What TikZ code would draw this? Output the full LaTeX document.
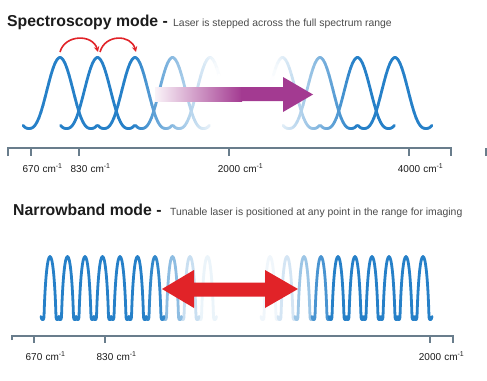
\documentclass[tikz,border=0pt]{standalone}
\usepackage{fontspec}
\setmainfont{Liberation Sans}
\usetikzlibrary{arrows.meta}
\definecolor{wave}{RGB}{38,128,200}
\definecolor{axisc}{RGB}{105,125,140}
\definecolor{purp}{RGB}{163,58,145}
\definecolor{redarr}{RGB}{225,35,40}
\definecolor{subt}{RGB}{75,75,75}
\definecolor{titlec}{RGB}{28,28,28}
\tikzset{
  wavestroke/.style={line width=2.8pt, line cap=round, line join=round},
  axisline/.style={draw=axisc, line width=1.4pt},
  ticklbl/.style={font=\fontsize{10}{12}\selectfont, text=titlec, inner sep=0pt},
  titletxt/.style={font=\fontsize{15.8}{19}\selectfont\bfseries, text=titlec, inner sep=0pt, anchor=base west},
  subtxt/.style={font=\fontsize{10.4}{12}\selectfont, text=subt, inner sep=0pt, anchor=base west},
  hoparrow/.style={draw=redarr, line width=1.6pt, -{Stealth[length=5.5pt,width=5.5pt]}}
}
\newcommand\drawWide[1]{%
 \foreach \i in {0,...,36}{%
   \pgfmathsetmacro\ta{-37+2*\i}%
   \pgfmathsetmacro\tb{\ta+2}%
   \pgfmathsetmacro\ya{128.5-71*pow((1+cos(180*\ta/31))/2+0.0001,1.3)}%
   \pgfmathsetmacro\yb{128.5-71*pow((1+cos(180*\tb/31))/2+0.0001,1.3)}%
   \pgfmathsetmacro\xa{#1+\ta}%
   \pgfmathsetmacro\xb{#1+\tb}%
   \pgfmathsetmacro\xm{(\xa+\xb)/2}%
   \pgfmathsetmacro\op{100*max(0,min(1,max((220-\xm)/88,(\xm-272)/83)))}%
   \draw[wavestroke,wave!\op!white] (\xa,\ya) -- (\xb,\yb);
 }}
% narrow arch with curled feet: #1 centre, #2 percentage of blue
\newcommand\drawNarrow[2]{%
  \draw[wavestroke, wave!#2!white]
    (#1-9,316.5) .. controls (#1-8.5,321) and (#1-6,320.5) .. (#1-6,317)
    .. controls (#1-3.6,236.3) and (#1+3.6,236.3) .. (#1+6,317)
    .. controls (#1+6,320.5) and (#1+8.5,321) .. (#1+9,316.5);
}
\begin{document}
\begin{tikzpicture}[x=1pt,y=-1pt]
\useasboundingbox (0,0) rectangle (487,380);
\fill[white] (0,0) rectangle (487,380);

% ---------- Spectroscopy mode ----------
\node[titletxt] (t1) at (7,27) {Spectroscopy mode -};
\node[subtxt] (s1) at (173,27) {Laser is stepped across the full spectrum range};

\foreach \c in {210,172.5,60,97.5,135,282.5,320,357.5,395} {\drawWide{\c}}

% hop arrows
\coordinate (h1) at (60,52);
\coordinate (h2) at (98,52);
\coordinate (h3) at (100,52);
\coordinate (h4) at (136,52);
\draw[hoparrow] (h1) .. controls +(5,-18) and +(-5,-18) .. (h2);
\draw[hoparrow] (h3) .. controls +(5,-18) and +(-5,-18) .. (h4);

% purple arrow
\shade[left color=purp!6, right color=purp] (155,87) rectangle (242,101);
\fill[purp] (241,87) -- (283,87) -- (283,77) -- (313,94.5) -- (283,112) -- (283,101) -- (241,101) -- cycle;

% top axis
\draw[axisline] (8,156) -- (8,148) -- (451,148) -- (451,156);
\foreach \x in {31,79,229,409} {\draw[axisline] (\x,148) -- (\x,156);}
\draw[axisline] (486,148) -- (486,156);

\node[ticklbl, anchor=base] (a670) at (31,172) {670};
\node[ticklbl, anchor=base west] (a670u) at (a670.base east) {\hspace{2.8pt}cm\textsuperscript{-1}};
\node[ticklbl, anchor=base] (a830) at (79,172) {830};
\node[ticklbl, anchor=base west] (a830u) at (a830.base east) {\hspace{2.8pt}cm\textsuperscript{-1}};
\node[ticklbl, anchor=base] (a2000) at (229,172) {2000};
\node[ticklbl, anchor=base west] (a2000u) at (a2000.base east) {\hspace{2.8pt}cm\textsuperscript{-1}};
\node[ticklbl, anchor=base] (a4000) at (409,172) {4000};
\node[ticklbl, anchor=base west] (a4000u) at (a4000.base east) {\hspace{2.8pt}cm\textsuperscript{-1}};

% ---------- Narrowband mode ----------
\node[titletxt] (t2) at (13,215) {Narrowband mode -};
\node[subtxt] (s2) at (170,215) {Tunable laser is positioned at any point in the range for imaging};

\foreach \c/\o in {207.5/9,190/25,172.5/52,155/94,137.5/100,120/100,102.5/100,85/100,67.5/100,50/100} {\drawNarrow{\c}{\o}}
\foreach \c/\o in {270/7,287/20,304/45,321/84,338/100,355/100,372/100,389/100,406/100,423/100} {\drawNarrow{\c}{\o}}

% red double arrow
\fill[redarr] (162,289) -- (194,270) -- (194,282.5) -- (265,282.5) -- (265,270) -- (298,289) -- (265,308) -- (265,296.5) -- (194,296.5) -- (194,308) -- cycle;

% bottom axis
\draw[axisline] (12,340) -- (12,336) -- (453,336) -- (453,343);
\foreach \x in {34,105,430} {\draw[axisline] (\x,336) -- (\x,343);}

\node[ticklbl, anchor=base] (b670) at (34,360) {670};
\node[ticklbl, anchor=base west] (b670u) at (b670.base east) {\hspace{2.8pt}cm\textsuperscript{-1}};
\node[ticklbl, anchor=base] (b830) at (105,360) {830};
\node[ticklbl, anchor=base west] (b830u) at (b830.base east) {\hspace{2.8pt}cm\textsuperscript{-1}};
\node[ticklbl, anchor=base] (b2000) at (430,360) {2000};
\node[ticklbl, anchor=base west] (b2000u) at (b2000.base east) {\hspace{2.8pt}cm\textsuperscript{-1}};
\end{tikzpicture}
\end{document}
